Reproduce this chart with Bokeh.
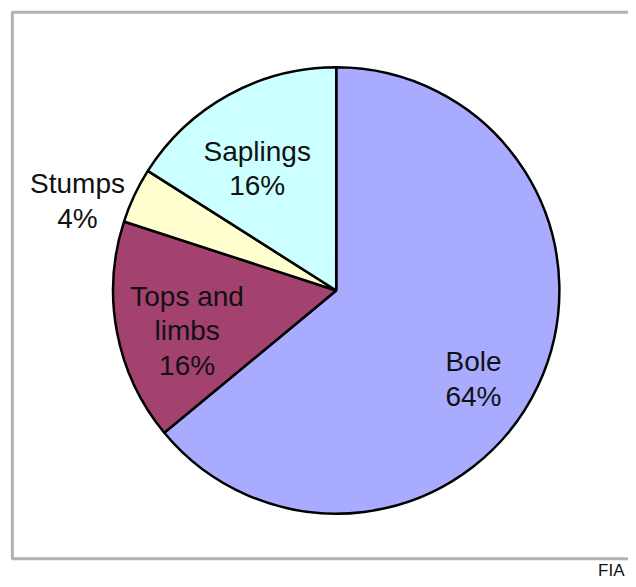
import numpy as np
from bokeh.plotting import figure
from bokeh.models import Range1d, BoxAnnotation, Label, ColumnDataSource
from bokeh.core.properties import value
from bokeh.embed import file_html
from bokeh.resources import INLINE

# ---- data ----
categories = ["Bole", "Tops and limbs", "Stumps", "Saplings"]
label_lines = [["Bole"], ["Tops and", "limbs"], ["Stumps"], ["Saplings"]]
percents = [64, 16, 4, 16]
colors = ["#A9ABFF", "#A3426F", "#FFFFCF", "#CCFFFF"]

# reference-pixel coordinate frame (636 x 587) mapped onto the figure
RW, RH = 636, 587
W, H = 628, 579
p = figure(width=W, height=H, output_backend="svg", toolbar_location=None,
           x_range=Range1d(0, RW), y_range=Range1d(0, RH), min_border=0,
           outline_line_color=None, background_fill_color="white",
           border_fill_color="white")
p.axis.visible = False
p.grid.visible = False

def sy(screen_y):
    return RH - screen_y

# frame box (right edge lies off-page)
p.add_layout(BoxAnnotation(left=12, right=900, top=sy(12), bottom=sy(566),
                           fill_alpha=0, line_color="black", line_width=3))

# pie: clockwise from 12 o'clock
cx, cy, r = 340, sy(294), 226
vals = np.array(percents, dtype=float)
frac = vals / vals.sum()
cum = np.concatenate([[0], np.cumsum(frac)])
ends = np.pi / 2 - cum[:-1] * 2 * np.pi
starts = np.pi / 2 - cum[1:] * 2 * np.pi
src = ColumnDataSource(dict(start=starts, end=ends, color=colors,
                            x=[cx] * 4, y=[cy] * 4))
p.wedge(x="x", y="y", radius=r, start_angle="start", end_angle="end",
        direction="anticlock", fill_color="color", line_color="black",
        line_width=2.5, source=src)

# labels: (x center, vertical centre of first line), reference pixels
label_pos = [(479, 366), (189, 300), (78, 186), (260, 153)]
line_gap = 35
tx, ty, tt = [], [], []
for lines, pct, (lx, ly) in zip(label_lines, percents, label_pos):
    for i, s in enumerate(lines + [f"{pct}%"]):
        tx.append(lx)
        ty.append(sy(ly + i * line_gap))
        tt.append(s)
p.text(x=tx, y=ty, text=tt, text_align="center", text_baseline="middle",
       text_font=value("Liberation Sans"), text_font_size="28px",
       text_color="#111111")

p.add_layout(Label(x=632, y=sy(578), text="FIA", text_align="right",
                   text_baseline="middle", text_font="Liberation Sans",
                   text_font_size="17px", text_color="#111111"))

open("out.html", "w").write(file_html(p, INLINE))
